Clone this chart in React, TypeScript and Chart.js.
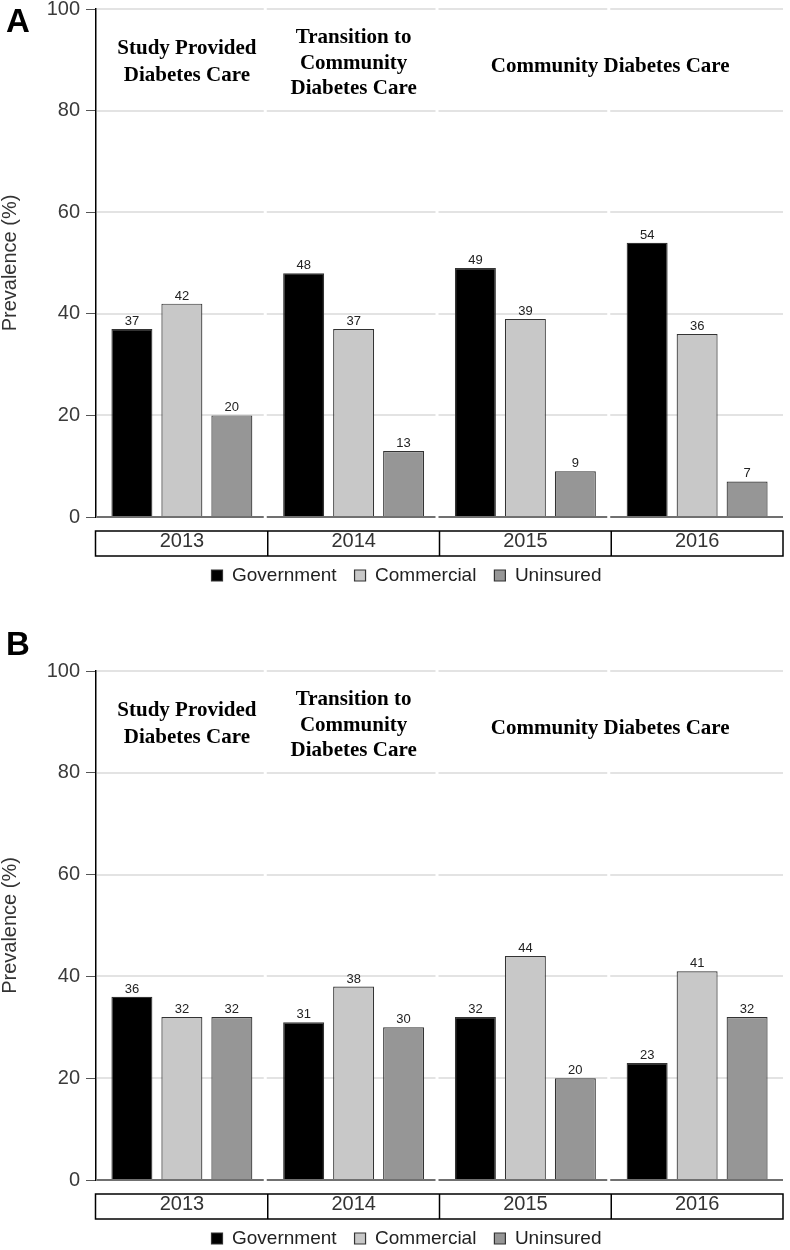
import React, { useEffect, useRef } from "react";
import { Chart, registerables } from "chart.js";

Chart.register(...registerables);

// ---------- data ----------
const years = ["2013", "2014", "2015", "2016"];
const seriesNames = ["Government", "Commercial", "Uninsured"];

const panelAGovernment = [37, 48, 49, 54];
const panelACommercial = [42, 37, 39, 36];
const panelAUninsured = [20, 13, 9, 7];

const panelBGovernment = [36, 31, 32, 23];
const panelBCommercial = [32, 38, 44, 41];
const panelBUninsured = [32, 30, 20, 32];

const yTickValues = [0, 20, 40, 60, 80, 100];
const yAxisTitle = "Prevalence (%)";

const phaseTexts = [
  ["Study Provided", "Diabetes Care"],
  ["Transition to", "Community", "Diabetes Care"],
  ["Community Diabetes Care"],
];
const phaseCategorySpans = [
  [0, 0],
  [1, 1],
  [2, 3],
];

// ---------- styles ----------
const seriesColors = ["#000000", "#c8c8c8", "#969696"];
const SANS = '"Liberation Sans", Arial, Helvetica, sans-serif';
const SERIF = '"Liberation Serif", "Times New Roman", Times, serif';

function makeDecor(letter: string, letterBaselineFromTop: number) {
  const bounds = (chart: any) => {
    const x = chart.scales.x;
    const out: number[] = [];
    for (let i = 0; i < years.length - 1; i++) {
      out.push((x.getPixelForValue(i) + x.getPixelForValue(i + 1)) / 2);
    }
    return out;
  };
  const drawSegLine = (chart: any, py: number, color: string, w: number) => {
    const { ctx, chartArea } = chart;
    const b = bounds(chart);
    ctx.save();
    ctx.strokeStyle = color;
    ctx.lineWidth = w;
    ctx.beginPath();
    let start = chartArea.left + 1;
    for (const bx of b) {
      ctx.moveTo(start, py);
      ctx.lineTo(bx - 4, py);
      start = bx - 1;
    }
    ctx.moveTo(start, py);
    ctx.lineTo(chartArea.right, py);
    ctx.stroke();
    ctx.restore();
  };
  return {
    id: "panelDecor" + letter,
    beforeDatasetsDraw(chart: any) {
      const y = chart.scales.y;
      yTickValues.forEach((v) => {
        if (v !== 0) drawSegLine(chart, Math.round(y.getPixelForValue(v)), "#e3e3e3", 2);
      });
    },
    afterDatasetsDraw(chart: any) {
      const { ctx } = chart;
      const y = chart.scales.y;
      drawSegLine(chart, Math.round(y.getPixelForValue(0)), "#707070", 2);
      // value labels
      ctx.save();
      ctx.fillStyle = "#222";
      ctx.font = `13px ${SANS}`;
      ctx.textAlign = "center";
      ctx.textBaseline = "alphabetic";
      chart.data.datasets.forEach((ds: any, di: number) => {
        const meta = chart.getDatasetMeta(di);
        meta.data.forEach((bar: any, i: number) => {
          ctx.fillText(String(ds.data[i]), bar.x, bar.y - 4);
        });
      });
      ctx.restore();
    },
    afterDraw(chart: any) {
      const { ctx, chartArea } = chart;
      const x = chart.scales.x;
      const b = bounds(chart);
      // category boxes
      ctx.save();
      ctx.strokeStyle = "#000";
      ctx.lineWidth = 1.5;
      const bt = chartArea.bottom + 14;
      const bh = 25;
      ctx.strokeRect(chartArea.left - 0.5, bt, chartArea.right - chartArea.left + 0.5, bh);
      ctx.beginPath();
      b.forEach((bx) => {
        ctx.moveTo(bx, bt);
        ctx.lineTo(bx, bt + bh);
      });
      ctx.stroke();
      ctx.restore();

      // y axis title (rotated)
      ctx.save();
      ctx.fillStyle = "#333";
      ctx.font = `20px ${SANS}`;
      ctx.textAlign = "center";
      ctx.textBaseline = "middle";
      ctx.translate(10, (chartArea.top + chartArea.bottom) / 2);
      ctx.rotate(-Math.PI / 2);
      ctx.fillText(yAxisTitle, 0, 0);
      ctx.restore();

      // phase annotations
      const baselineOffsets = [[45, 72], [34, 59.5, 85], [63]];
      const xShift = [5, 0, -1];
      ctx.save();
      ctx.fillStyle = "#000";
      ctx.font = `bold 21px ${SERIF}`;
      ctx.textAlign = "center";
      ctx.textBaseline = "alphabetic";
      phaseTexts.forEach((lines, pi) => {
        const [a, c] = phaseCategorySpans[pi];
        const cx = (x.getPixelForValue(a) + x.getPixelForValue(c)) / 2 + xShift[pi];
        lines.forEach((t, li) => {
          ctx.fillText(t, cx, chartArea.top + baselineOffsets[pi][li]);
        });
      });
      ctx.restore();

      // panel letter
      ctx.save();
      ctx.fillStyle = "#000";
      ctx.font = `bold 33px ${SANS}`;
      ctx.textAlign = "left";
      ctx.textBaseline = "alphabetic";
      ctx.fillText(letter, 6, chartArea.top + letterBaselineFromTop);
      ctx.restore();
    },
  };
}

type PanelProps = {
  letter: string;
  values: number[][];
  top: number;
  height: number;
  padTop: number;
  padBottom: number;
  letterBaseline: number;
};

const PAD_LEFT = 30;

function Panel({ letter, values, top, height, padTop, padBottom, letterBaseline }: PanelProps) {
  const ref = useRef<HTMLCanvasElement>(null);
  useEffect(() => {
    const chart = new Chart(ref.current as HTMLCanvasElement, {
      type: "bar",
      data: {
        labels: years,
        datasets: seriesNames.map((name, i) => ({
          label: name,
          data: values[i],
          backgroundColor: seriesColors[i],
          borderColor: "#333333",
          borderWidth: 1.2,
          barPercentage: 0.82,
          categoryPercentage: 0.873,
        })),
      },
      options: {
        responsive: false,
        animation: false,
        events: [],
        layout: { padding: { top: padTop, bottom: padBottom, left: PAD_LEFT, right: 7 } },
        plugins: {
          legend: {
            position: "bottom",
            labels: {
              boxWidth: 11,
              boxHeight: 11,
              padding: 18,
              color: "#222",
              font: { family: SANS, size: 19, lineHeight: 1 },
            },
          },
          tooltip: { enabled: false },
        },
        scales: {
          x: {
            grid: { display: false, drawTicks: false },
            border: { display: false },
            ticks: {
              padding: 14,
              color: "#333",
              font: { family: SANS, size: 20, lineHeight: 1 },
            },
            afterFit: (s: any) => {
              s.height = 31;
            },
          },
          y: {
            min: 0,
            max: 100,
            afterBuildTicks: (s: any) => {
              s.ticks = yTickValues.map((v) => ({ value: v }));
            },
            ticks: {
              padding: 6,
              color: "#3a3a3a",
              font: { family: SANS, size: 20, lineHeight: 1 },
            },
            grid: {
              drawOnChartArea: false,
              drawTicks: true,
              tickLength: 10,
              color: "#555",
              lineWidth: 1,
            },
            border: { color: "#000", width: 1.5 },
            title: { display: false },
            afterFit: (s: any) => {
              s.width = 96 - PAD_LEFT;
              s.paddingTop = 0;
              s.paddingBottom = 0;
            },
          },
        },
      } as any,
      plugins: [makeDecor(letter, letterBaseline)],
    });
    return () => chart.destroy();
  }, []);
  return (
    <canvas
      ref={ref}
      width={790}
      height={height}
      style={{ position: "absolute", left: 0, top, width: 790, height, display: "block" }}
    />
  );
}

export default function App() {
  return (
    <div
      style={{
        position: "absolute",
        left: 0,
        top: 0,
        width: 790,
        height: 1250,
        overflow: "hidden",
        background: "#fff",
      }}
    >
      <Panel
        letter="A"
        values={[panelAGovernment, panelACommercial, panelAUninsured]}
        top={0}
        height={600}
        padTop={9}
        padBottom={5}
        letterBaseline={23}
      />
      <Panel
        letter="B"
        values={[panelBGovernment, panelBCommercial, panelBUninsured]}
        top={600}
        height={670}
        padTop={71}
        padBottom={12}
        letterBaseline={-16}
      />
    </div>
  );
}
